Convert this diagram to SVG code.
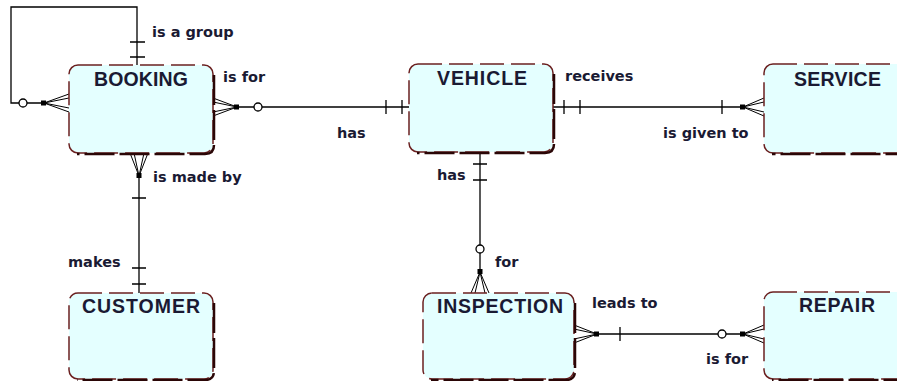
<svg xmlns="http://www.w3.org/2000/svg" width="897" height="381" viewBox="0 0 897 381">
<style>
.box{fill:#e4ffff;stroke:#6b2020;stroke-width:1.5;stroke-dasharray:24 7}
.sh{fill:none;stroke:#2a0606;stroke-width:2.5;stroke-dasharray:30 5}
.title{font-family:"Liberation Sans",Arial,sans-serif;font-weight:bold;font-size:19.5px;fill:#1a1a33;text-anchor:middle}
.lbl{font-family:"DejaVu Sans",sans-serif;font-weight:bold;font-size:14.5px;fill:#1a1a33}
.ln{fill:none;stroke:#000;stroke-width:1.3}
.cf{fill:none;stroke:#000;stroke-width:1}
.ci{fill:#fff;stroke:#000;stroke-width:1.3}
.sq{fill:#000}
</style>
<rect width="897" height="381" fill="#fff"/>
<g id="connectors">
  <path class="ln" d="M137,65 V7 H11 V103 H44"/>
  <path class="ln" d="M130,42 H145 M130,57 H145"/>
  <circle class="ci" cx="23" cy="103" r="4"/>
  <rect class="sq" x="41" y="100.5" width="5" height="5"/>
  <path class="cf" d="M44,103 L69,94 M44,103 L69,98 M44,103 L69,108 M44,103 L69,112"/>
  <path class="ln" d="M237,107 H409"/>
  <path class="cf" d="M237,107 L213,98 M237,107 L213,102 M237,107 L213,112 M237,107 L213,116"/>
  <rect class="sq" x="234" y="104.5" width="5" height="5"/>
  <circle class="ci" cx="258" cy="107" r="4"/>
  <path class="ln" d="M386,100 V114 M402,100 V114"/>
  <path class="ln" d="M553,107 H743"/>
  <path class="ln" d="M564,100 V114 M580,100 V114 M722,100 V114"/>
  <rect class="sq" x="740" y="104.5" width="5" height="5"/>
  <path class="cf" d="M743,107 L764,98 M743,107 L764,102 M743,107 L764,112 M743,107 L764,116"/>
  <path class="ln" d="M139,176 V293"/>
  <path class="cf" d="M139,176 L130,153 M139,176 L134,153 M139,176 L144,153 M139,176 L148,153"/>
  <rect class="sq" x="136.5" y="173" width="5" height="5"/>
  <path class="ln" d="M132,198 H146 M132,268 H146 M132,284 H146"/>
  <path class="ln" d="M480,152 V272"/>
  <path class="ln" d="M473,164 H487 M473,180 H487"/>
  <circle class="ci" cx="480" cy="249" r="4"/>
  <rect class="sq" x="477.5" y="269" width="5" height="5"/>
  <path class="cf" d="M480,272 L471,293 M480,272 L475,293 M480,272 L485,293 M480,272 L489,293"/>
  <path class="ln" d="M597,334 H743"/>
  <path class="cf" d="M597,334 L574,325 M597,334 L574,329 M597,334 L574,339 M597,334 L574,343"/>
  <rect class="sq" x="594" y="331.5" width="5" height="5"/>
  <path class="ln" d="M620,327 V341"/>
  <circle class="ci" cx="722" cy="334" r="4"/>
  <rect class="sq" x="740" y="331.5" width="5" height="5"/>
  <path class="cf" d="M743,334 L764,325 M743,334 L764,329 M743,334 L764,339 M743,334 L764,343"/>
</g>
<g id="labels">
  <text class="lbl" x="152" y="37">is a group</text>
  <text class="lbl" x="223" y="82">is for</text>
  <text class="lbl" x="337" y="138">has</text>
  <text class="lbl" x="565" y="81">receives</text>
  <text class="lbl" x="663" y="138">is given to</text>
  <text class="lbl" x="153" y="182">is made by</text>
  <text class="lbl" x="68" y="267">makes</text>
  <text class="lbl" x="437" y="180">has</text>
  <text class="lbl" x="495" y="267">for</text>
  <text class="lbl" x="592" y="308">leads to</text>
  <text class="lbl" x="706" y="364">is for</text>
</g>
<g id="booking">
  <rect class="box" x="69" y="65" width="144" height="88" rx="9"/>
  <path class="sh" d="M214,75 V145 Q214,154 205,154 H77"/>
  <text class="title" x="141" y="86" textLength="94">BOOKING</text>
</g>
<g id="vehicle">
  <rect class="box" x="409" y="64" width="144" height="88" rx="9"/>
  <path class="sh" d="M554,74 V144 Q554,153 545,153 H417"/>
  <text class="title" x="482" y="85" textLength="90">VEHICLE</text>
</g>
<g id="service">
  <rect class="box" x="764" y="64" width="144" height="89" rx="9"/>
  <path class="sh" d="M909,74 V145 Q909,154 900,154 H772"/>
  <text class="title" x="837.5" y="86" textLength="87">SERVICE</text>
</g>
<g id="customer">
  <rect class="box" x="69" y="293" width="144" height="86" rx="9"/>
  <path class="sh" d="M214,303 V371 Q214,380 205,380 H77"/>
  <text class="title" x="141" y="313" textLength="118">CUSTOMER</text>
</g>
<g id="inspection">
  <rect class="box" x="423" y="293" width="151" height="86" rx="9"/>
  <path class="sh" d="M575,303 V371 Q575,380 566,380 H431"/>
  <text class="title" x="500" y="313" textLength="126">INSPECTION</text>
</g>
<g id="repair">
  <rect class="box" x="764" y="292" width="144" height="87" rx="9"/>
  <path class="sh" d="M909,302 V371 Q909,380 900,380 H772"/>
  <text class="title" x="837" y="312" textLength="76">REPAIR</text>
</g>
</svg>
